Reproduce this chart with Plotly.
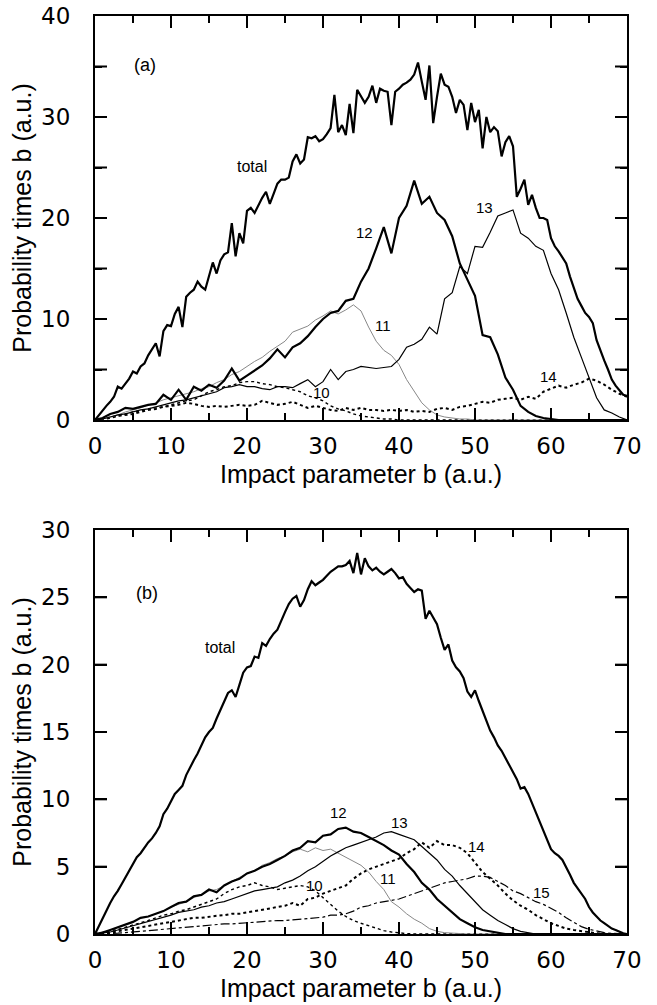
import plotly.graph_objects as go

# ---------------- data: panel (a) ----------------
b_fine = [i * 0.5 for i in range(141)]
b_step = list(range(71))

a_total = [0, 0.5, 1.0, 1.4, 1.8, 2.3, 3.3, 3.1, 3.6, 4.1, 4.8, 4.6, 5.3, 5.6, 6.4, 7.0, 7.6, 6.3, 8.8, 9.4,
           9.3, 10.5, 11.2, 9.2, 12.2, 12.6, 12.9, 13.7, 13.2, 12.9, 14.3, 15.6, 14.5, 15.8, 16.4, 16.6, 19.5, 16.2, 18.5, 17.5,
           20.7, 21.0, 20.5, 21.3, 22.0, 22.6, 21.4, 22.4, 23.4, 23.8, 23.8, 24.0, 25.6, 26.3, 25.4, 25.8, 28.0, 27.9, 28.1, 27.6,
           27.8, 28.3, 28.9, 32.2, 28.5, 29.2, 28.2, 31.3, 28.4, 32.7, 32.0, 31.4, 32.0, 33.1, 31.4, 32.8, 32.6, 32.5, 29.2, 32.5,
           32.8, 33.2, 33.4, 33.7, 34.2, 35.4, 33.5, 31.7, 35.1, 29.4, 32.0, 34.3, 33.2, 33.0, 32.0, 30.4, 31.7, 31.2, 28.7, 31.4,
           29.5, 30.7, 26.9, 30.0, 28.5, 29.0, 28.6, 26.1, 27.5, 28.1, 27.1, 22.1, 22.9, 23.8, 21.3, 22.3, 21.0, 20.0, 20.0, 19.8,
           18.0, 17.2, 16.7, 16.1, 15.5, 14.2, 13.0, 12.0, 11.3, 10.6, 10.2, 9.6, 7.9, 6.8, 5.9, 5.0, 4.0, 3.4, 2.9, 2.5,
           2.4]

a_12 = [0, 0.2, 0.6, 0.8, 1.2, 1.1, 1.3, 1.5, 1.6, 2.5, 2.0, 3.0, 2.0, 3.3, 2.9, 3.5, 3.2, 3.9, 5.1, 3.9,
        4.4, 4.9, 5.4, 6.1, 7.0, 6.2, 7.2, 7.6, 8.3, 9.2, 10.0, 10.6, 10.8, 11.8, 12.0, 13.7, 15.0, 17.0, 19.1, 16.5,
        20.0, 21.2, 23.7, 21.4, 22.1, 20.5, 19.8, 18.2, 15.5, 13.9, 12.3, 8.4, 8.2, 6.5, 4.2, 3.0, 1.4, 0.8, 0.4, 0.2,
        0.1, 0, 0, 0, 0, 0, 0, 0, 0, 0, 0]

a_13 = [0, 0.1, 0.3, 0.5, 0.6, 0.8, 1.0, 1.1, 1.3, 1.5, 1.7, 1.9, 2.0, 2.2, 2.4, 2.6, 2.8, 3.2, 3.3, 3.5,
        3.3, 3.3, 3.1, 3.0, 3.3, 3.3, 3.2, 3.6, 4.0, 3.3, 3.8, 5.0, 4.0, 4.8, 5.0, 5.3, 5.2, 5.1, 5.2, 5.3,
        6.0, 7.2, 7.5, 8.0, 9.2, 8.5, 12.0, 12.6, 15.2, 14.5, 17.2, 17.1, 18.6, 20.2, 20.5, 20.8, 18.5, 18.0, 17.2, 16.8,
        14.5, 12.9, 10.6, 8.2, 6.2, 4.2, 2.2, 1.0, 0.7, 0.3, 0]

a_11 = [0, 0.1, 0.3, 0.5, 0.8, 1.0, 1.2, 1.5, 1.7, 2.0, 2.2, 2.4, 2.6, 2.8, 3.1, 3.3, 3.7, 4.0, 4.5, 4.8,
        5.3, 5.8, 6.2, 6.8, 7.3, 7.8, 8.7, 9.0, 9.3, 9.9, 10.3, 10.8, 10.5, 10.9, 11.4, 10.8, 9.2, 7.8, 6.9, 6.4,
        5.5, 4.0, 2.8, 1.7, 1.0, 0.5, 0.3, 0.2, 0.1, 0.1, 0, 0, 0, 0, 0, 0, 0, 0, 0, 0,
        0, 0, 0, 0, 0, 0, 0, 0, 0, 0, 0]

a_10 = [0, 0.1, 0.3, 0.4, 0.6, 0.8, 0.9, 1.1, 1.2, 1.3, 1.5, 1.7, 1.9, 2.0, 2.4, 2.8, 3.0, 3.3, 3.4, 3.7,
        3.8, 3.8, 3.6, 3.5, 3.3, 3.2, 3.0, 2.8, 2.4, 2.2, 1.9, 1.4, 1.1, 0.9, 0.6, 0.4, 0.3, 0.2, 0.1, 0.1,
        0, 0, 0, 0, 0, 0, 0, 0, 0, 0, 0, 0, 0, 0, 0, 0, 0, 0, 0, 0,
        0, 0, 0, 0, 0, 0, 0, 0, 0, 0, 0]

a_14 = [0, 0.1, 0.2, 0.4, 0.5, 0.6, 0.8, 1.0, 1.1, 1.3, 1.4, 1.5, 1.7, 1.6, 1.4, 1.3, 1.4, 1.3, 1.4, 1.5,
        1.4, 1.5, 1.9, 1.7, 1.5, 1.6, 1.8, 1.5, 1.2, 1.4, 1.2, 1.0, 0.9, 1.2, 1.0, 1.2, 1.0, 1.0, 0.9, 1.0,
        0.9, 1.0, 0.8, 0.9, 0.8, 1.1, 1.2, 1.0, 1.3, 1.4, 1.6, 1.8, 1.7, 2.0, 2.1, 2.2, 2.0, 2.3, 2.1, 2.8,
        3.1, 3.4, 3.2, 3.5, 3.7, 4.1, 3.9, 3.5, 3.0, 2.6, 2.3]

# ---------------- data: panel (b) ----------------
b_total = [0, 0.6, 1.2, 1.8, 2.3, 2.8, 3.2, 3.7, 4.2, 4.6, 5.1, 5.7, 6.0, 6.4, 6.8, 7.1, 7.5, 8.0, 8.9, 9.3,
           9.9, 10.4, 10.7, 11.0, 11.8, 12.4, 12.9, 13.4, 14.0, 14.6, 15.0, 15.3, 16.0, 16.6, 17.2, 17.9, 18.1, 17.6, 18.5, 19.4,
           19.8, 19.9, 20.6, 20.5, 21.6, 21.4, 21.9, 22.3, 22.6, 23.3, 23.9, 24.5, 24.9, 25.1, 24.3, 24.8, 25.6, 26.2, 25.9, 26.1,
           26.3, 26.6, 26.9, 27.1, 27.3, 27.3, 27.4, 27.7, 26.8, 28.3, 26.7, 27.9, 27.3, 27.0, 27.2, 26.9, 26.7, 26.9, 27.1, 26.8,
           26.4, 26.5, 26.0, 25.7, 25.4, 25.6, 25.5, 23.4, 24.0, 23.5, 23.0, 22.0, 21.1, 21.5, 20.3, 19.8, 19.5, 19.0, 18.0, 17.6,
           18.1, 17.3, 16.6, 15.9, 15.1, 14.6, 14.0, 13.6, 13.1, 12.5, 12.0, 11.5, 10.8, 10.9, 10.4, 9.7, 9.0, 8.3, 7.6, 6.9,
           6.3, 6.0, 5.8, 5.5, 5.0, 4.4, 3.8, 3.4, 3.0, 2.6, 2.0, 1.6, 1.3, 1.0, 0.8, 0.6, 0.4, 0.3, 0.15, 0.05,
           0]

b_12 = [0, 0.1, 0.3, 0.5, 0.7, 0.9, 1.2, 1.3, 1.5, 1.7, 2.0, 2.3, 2.4, 2.8, 2.9, 3.3, 3.1, 3.6, 3.9, 4.1,
        4.5, 4.7, 5.0, 5.2, 5.5, 5.8, 6.2, 6.4, 6.9, 6.8, 7.3, 7.4, 7.8, 7.9, 7.6, 7.5, 7.2, 6.9, 6.6, 6.2,
        5.9, 5.2, 4.6, 3.8, 3.3, 2.6, 2.1, 1.6, 1.1, 0.8, 0.5, 0.3, 0.2, 0.1, 0, 0, 0, 0, 0, 0,
        0, 0, 0, 0, 0, 0, 0, 0, 0, 0, 0]

b_11 = [0, 0.1, 0.3, 0.5, 0.7, 0.9, 1.2, 1.3, 1.5, 1.7, 2.0, 2.2, 2.4, 2.7, 2.9, 3.2, 3.3, 3.6, 3.9, 4.2,
        4.5, 4.7, 5.1, 5.3, 5.6, 5.8, 6.1, 6.3, 6.1, 6.4, 6.2, 6.3, 6.0, 5.7, 5.4, 5.1, 4.6, 3.9, 3.3, 2.4,
        2.0, 1.5, 1.1, 0.8, 0.4, 0.2, 0.1, 0.05, 0, 0, 0, 0, 0, 0, 0, 0, 0, 0, 0, 0,
        0, 0, 0, 0, 0, 0, 0, 0, 0, 0, 0]

b_13 = [0, 0.05, 0.15, 0.3, 0.45, 0.6, 0.8, 0.95, 1.1, 1.25, 1.4, 1.6, 1.7, 1.8, 2.0, 2.1, 2.3, 2.4, 2.6, 2.8,
        3.0, 3.2, 3.3, 3.4, 3.5, 3.8, 4.0, 4.3, 4.7, 5.0, 5.4, 5.8, 6.1, 6.4, 6.6, 6.8, 7.0, 7.2, 7.5, 7.6,
        7.4, 7.2, 7.0, 6.5, 6.0, 5.5, 4.8, 4.3, 3.6, 3.0, 2.4, 1.8, 1.4, 1.0, 0.7, 0.4, 0.2, 0.1, 0, 0,
        0, 0, 0, 0, 0, 0, 0, 0, 0, 0, 0]

b_10 = [0, 0.1, 0.2, 0.35, 0.5, 0.65, 0.8, 1.0, 1.2, 1.4, 1.5, 1.7, 1.8, 2.0, 2.2, 2.4, 2.6, 3.0, 3.3, 3.5,
        3.6, 3.8, 3.6, 3.5, 3.3, 3.4, 3.5, 3.6, 3.5, 3.2, 2.7, 2.2, 1.7, 1.3, 1.0, 0.8, 0.6, 0.4, 0.25, 0.15,
        0.08, 0.03, 0, 0, 0, 0, 0, 0, 0, 0, 0, 0, 0, 0, 0, 0, 0, 0, 0, 0,
        0, 0, 0, 0, 0, 0, 0, 0, 0, 0, 0]

b_14 = [0, 0.03, 0.1, 0.2, 0.3, 0.4, 0.5, 0.6, 0.7, 0.8, 0.9, 1.0, 1.1, 1.2, 1.2, 1.3, 1.35, 1.4, 1.5, 1.5,
        1.6, 1.7, 1.8, 1.9, 2.0, 2.1, 2.3, 2.1, 2.6, 2.7, 3.0, 3.2, 3.4, 3.6, 4.1, 4.5, 4.8, 5.0, 5.2, 5.4,
        5.6, 6.0, 6.3, 6.8, 6.4, 6.9, 6.6, 6.6, 6.4, 6.0, 5.3, 4.6, 4.1, 3.6, 3.0, 2.5, 2.1, 1.8, 1.4, 1.1,
        0.8, 0.6, 0.4, 0.3, 0.2, 0.1, 0.05, 0, 0, 0, 0]

b_15 = [0, 0.01, 0.03, 0.06, 0.1, 0.15, 0.2, 0.25, 0.3, 0.35, 0.4, 0.45, 0.5, 0.55, 0.6, 0.6, 0.65, 0.75, 0.75, 0.8,
        0.8, 0.9, 0.9, 0.95, 1.0, 1.0, 1.05, 1.1, 1.15, 1.2, 1.25, 1.4, 1.4, 1.5, 1.7, 2.0, 2.1, 2.3, 2.4, 2.5,
        2.6, 2.8, 3.0, 3.2, 3.4, 3.6, 3.8, 3.9, 4.0, 4.1, 4.3, 4.3, 4.2, 3.9, 3.6, 3.2, 3.0, 2.7, 2.4, 2.2,
        1.9, 1.6, 1.2, 0.9, 0.55, 0.35, 0.2, 0.1, 0.05, 0, 0]

# tick positions
x_ticks = [0, 10, 20, 30, 40, 50, 60, 70]
x_minor = [5, 15, 25, 35, 45, 55, 65]
ya_ticks = [0, 10, 20, 30, 40]
ya_minor = [5, 15, 25, 35]
yb_ticks = [0, 5, 10, 15, 20, 25, 30]

FONT = "Liberation Sans, Arial, Helvetica, sans-serif"
TICKFONT = "DejaVu Sans, Liberation Sans, sans-serif"

W, H = 657, 1005
ML, MR, MT, MB = 95, 30, 16, 71
PW, PH = W - ML - MR, H - MT - MB
TOP_A = 0.5599
TOP_B = 0.4401

fig = go.Figure()

def add(x, y, ax, width, color="black", dash="solid"):
    fig.add_trace(go.Scatter(x=x, y=y, mode="lines", xaxis="x" + ax, yaxis="y" + ax,
                             line=dict(color=color, width=width, dash=dash),
                             showlegend=False, hoverinfo="skip"))

# panel (a)
add(b_step, a_14, "", 2.0, dash="dot")
add(b_step, a_10, "", 1.4, dash="dot")
add(b_step, a_11, "", 1.0, color="#888888")
add(b_step, a_13, "", 1.2)
add(b_step, a_12, "", 2.2)
add(b_fine, a_total, "", 2.2)

# panel (b)
add(b_step, b_15, "2", 1.2, dash="dashdot")
add(b_step, b_14, "2", 2.0, dash="dot")
add(b_step, b_10, "2", 1.4, dash="dot")
add(b_step, b_11, "2", 1.0, color="#888888")
add(b_step, b_13, "2", 1.2)
add(b_step, b_12, "2", 2.2)
add(b_fine, b_total, "2", 2.2)

tickfont = dict(size=23, family=TICKFONT, color="black")
xtitle = dict(text="Impact parameter b (a.u.)", font=dict(size=25, family=FONT, color="black"), standoff=8)
ytitle = dict(text="Probability times b (a.u.)", font=dict(size=25, family=FONT, color="black"), standoff=2)

base = dict(showline=True, linecolor="black", linewidth=2, mirror="ticks", showgrid=False, zeroline=False,
            automargin=False, ticks="inside", ticklen=12, tickwidth=2, tickcolor="black", tickfont=tickfont)
minor5 = dict(ticks="inside", ticklen=7, tickwidth=2, tickcolor="black", tick0=0, dtick=5, showgrid=False)

fig.update_layout(
    template="none",
    width=W, height=H,
    paper_bgcolor="white", plot_bgcolor="white",
    margin=dict(l=ML, r=MR, t=MT, b=MB),
    font=dict(family=FONT, color="black"),
    xaxis=dict(base, anchor="y", domain=[0, 1], range=[0, 70], tickvals=x_ticks, ticklabelstandoff=4,
               title=xtitle, minor=minor5),
    yaxis=dict(base, anchor="x", domain=[TOP_A, 1.0], range=[0, 40], tickvals=ya_ticks, ticklabelstandoff=18,
               title=ytitle, minor=minor5),
    xaxis2=dict(base, anchor="y2", domain=[0, 1], range=[0, 70], tickvals=x_ticks, ticklabelstandoff=4,
                title=xtitle, minor=minor5),
    yaxis2=dict(base, anchor="x2", domain=[0, TOP_B], range=[0, 30], tickvals=yb_ticks, ticklabelstandoff=18,
                title=ytitle),
)

# inward tick marks on all four sides (positions through the axes, lengths in paper units)
TICK = dict(color="black", width=2)

def xticks(vals, ax, lo, hi, length):
    dy = length / PH
    for v in vals:
        if v <= 0 or v >= 70:
            continue
        fig.add_shape(type="line", xref="x" + ax, yref="paper", x0=v, x1=v, y0=lo, y1=lo + dy,
                      line=TICK, layer="above")
        fig.add_shape(type="line", xref="x" + ax, yref="paper", x0=v, x1=v, y0=hi, y1=hi - dy,
                      line=TICK, layer="above")

def yticks(vals, ax, top, length):
    dx = length / PW
    for v in vals:
        if v <= 0 or v >= top:
            continue
        fig.add_shape(type="line", yref="y" + ax, xref="paper", y0=v, y1=v, x0=0, x1=dx,
                      line=TICK, layer="above")
        fig.add_shape(type="line", yref="y" + ax, xref="paper", y0=v, y1=v, x0=1, x1=1 - dx,
                      line=TICK, layer="above")

xticks(x_ticks, "", TOP_A, 1.0, 12)
xticks(x_minor, "", TOP_A, 1.0, 7)
yticks(ya_ticks, "", 40, 12)
yticks(ya_minor, "", 40, 12)
xticks(x_ticks, "2", 0.0, TOP_B, 12)
xticks(x_minor, "2", 0.0, TOP_B, 7)
yticks(yb_ticks, "2", 30, 12)

def ann(text, x, y, ax, size=15):
    fig.add_annotation(text=text, x=x, y=y, xref="x" + ax, yref="y" + ax, showarrow=False,
                       font=dict(size=size, family=FONT, color="black"))

ann("(a)", 6.6, 35.1, "", 18)
ann("total", 20.6, 25.1, "", 16)
ann("12", 35.5, 18.6, "")
ann("13", 51.3, 21.0, "")
ann("11", 37.9, 9.4, "")
ann("10", 29.8, 2.7, "")
ann("14", 59.7, 4.3, "")

ann("(b)", 6.9, 25.3, "2", 18)
ann("total", 16.4, 21.3, "2", 16)
ann("12", 32.0, 9.0, "2")
ann("13", 40.1, 8.3, "2")
ann("14", 50.2, 6.5, "2")
ann("15", 58.8, 3.1, "2")
ann("11", 38.6, 4.1, "2")
ann("10", 28.9, 3.6, "2")

fig.write_html("out.html", config={"displayModeBar": False},
               post_script="document.body.style.margin='0';")
